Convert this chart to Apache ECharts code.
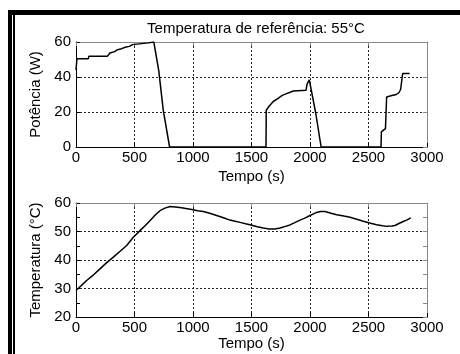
<!DOCTYPE html>
<html>
<head>
<meta charset="utf-8">
<script src="https://cdn.jsdelivr.net/npm/echarts@6/dist/echarts.min.js"></script>
<style>
  html, body { margin: 0; padding: 0; background: #fff; }
  #chart { width: 460px; height: 354px; }
</style>
</head>
<body>
<div id="chart"></div>
<script>
// Potência (W) ao longo do tempo
const powerTime  = [0, 8, 105, 110, 268, 290, 330, 355, 390, 420, 456, 484, 490, 618, 625, 665, 707, 746, 800,
  1624, 1626, 1650, 1686, 1724, 1763, 1800, 1857, 1870, 1966, 1975, 1994, 2000, 2050, 2095,
  2607, 2610, 2645, 2652, 2655, 2700, 2738, 2760, 2775, 2788, 2792, 2852]
const powerValue = [44, 50.5, 50.5, 51.8, 51.8, 53.7, 54.5, 55.6, 56.2, 57, 57.5, 58.5, 59.5, 59.5, 60, 60, 43.8, 20.9, 0,
  0, 21, 23.3, 26, 27.6, 29.5, 30.5, 32, 32.4, 32.4, 36, 38.4, 37.5, 19, 0,
  0, 8.6, 10.5, 10.5, 28.6, 29.4, 30, 31, 33, 34, 42, 42]

// Temperatura (°C) ao longo do tempo
const tempTime  = [0, 45, 91, 150, 205, 260, 319, 375, 433, 490, 547, 590, 632, 675, 718, 760, 803, 850, 903, 950,
  989, 1040, 1088, 1150, 1202, 1260, 1316, 1360, 1402, 1450, 1496, 1550, 1601, 1650, 1700, 1744, 1790,
  1829, 1870, 1915, 1960, 2000, 2030, 2057, 2090, 2128, 2180, 2228, 2290, 2342, 2400, 2456, 2510,
  2570, 2620, 2655, 2700, 2726, 2760, 2797, 2830, 2861]
const tempValue = [29.3, 31, 32.8, 34.8, 36.9, 39, 41, 43, 45.1, 48, 50.3, 52, 53.8, 55.7, 57.3, 58.2, 58.8, 58.6, 58.3, 58,
  57.7, 57.3, 57, 56.3, 55.6, 54.8, 54, 53.6, 53.2, 52.7, 52.3, 51.7, 51.2, 50.9, 50.9, 51.2, 51.8,
  52.3, 53.1, 54, 54.8, 55.6, 56.2, 56.7, 57, 57, 56.4, 55.9, 55.4, 55, 54.3, 53.6, 53,
  52.4, 52, 51.8, 51.9, 52.1, 52.8, 53.5, 54.1, 54.8]

// [min, max, interval]
const timeTicks = [0, 3000, 500]
const powerTicks = [0, 60, 20]
const tempTicks = [20, 60, 10]

const FONT = 'Liberation Sans'
const txt = { color: '#000', fontFamily: FONT, fontSize: 15 }
const plain = v => String(v)

const chart = echarts.init(document.getElementById('chart'))

function bottomX (gridIndex, gap) {
  return {
    type: 'value', gridIndex, min: timeTicks[0], max: timeTicks[1], interval: timeTicks[2],
    name: 'Tempo (s)', nameLocation: 'middle', nameGap: gap, nameTextStyle: txt,
    axisLine: { onZero: false, lineStyle: { color: '#000', width: 1 } },
    axisTick: { inside: true, length: 4, lineStyle: { color: '#000' } },
    axisLabel: Object.assign({ margin: 3, formatter: plain }, txt),
    splitLine: { show: true, lineStyle: { color: '#222', type: [2, 2], width: 1 } }
  }
}
function topX (gridIndex) {
  return {
    type: 'value', gridIndex, position: 'top', min: timeTicks[0], max: timeTicks[1], interval: timeTicks[2],
    axisLine: { onZero: false, lineStyle: { color: '#888', width: 1 } },
    axisTick: { inside: true, length: 4, lineStyle: { color: '#888' } },
    axisLabel: { show: false }, splitLine: { show: false }
  }
}
function leftY (gridIndex, ticks, name, minor) {
  return {
    type: 'value', gridIndex, min: ticks[0], max: ticks[1], interval: ticks[2],
    name, nameLocation: 'middle', nameGap: 30, nameTextStyle: txt,
    axisLine: { show: true, onZero: false, lineStyle: { color: '#000', width: 1 } },
    axisTick: { show: true, inside: true, length: 4, lineStyle: { color: '#000' } },
    minorTick: { show: minor, splitNumber: 2, length: 4, lineStyle: { color: '#000' } },
    axisLabel: Object.assign({ margin: 5, formatter: plain }, txt),
    splitLine: { show: true, lineStyle: { color: '#222', type: [2, 2], width: 1 } }
  }
}
function rightY (gridIndex, ticks, minor) {
  return {
    type: 'value', gridIndex, position: 'right', min: ticks[0], max: ticks[1], interval: ticks[2],
    axisLine: { show: true, onZero: false, lineStyle: { color: '#888', width: 1 } },
    axisTick: { show: true, inside: true, length: 4, lineStyle: { color: '#888' } },
    minorTick: { show: minor, splitNumber: 2, length: 4, lineStyle: { color: '#888' } },
    axisLabel: { show: false }, splitLine: { show: false }
  }
}

chart.setOption({
  backgroundColor: '#fff',
  animation: false,
  title: {
    text: 'Temperatura de referência: 55°C',
    left: 251, top: 16, textAlign: 'center',
    textStyle: { color: '#000', fontFamily: FONT, fontSize: 15, fontWeight: 'normal' }
  },
  graphic: [
    { type: 'rect', shape: { x: 8, y: 10, width: 452, height: 5 }, style: { fill: '#000' } },
    { type: 'rect', shape: { x: 8, y: 10, width: 4, height: 344 }, style: { fill: '#000' } },
    { type: 'rect', shape: { x: 13, y: 14, width: 2, height: 340 }, style: { fill: '#000' } }
  ],
  grid: [
    { left: 76, top: 42, width: 351, height: 105 },
    { left: 76, top: 203, width: 351, height: 114 }
  ],
  xAxis: [bottomX(0, 22), topX(0), bottomX(1, 18), topX(1)],
  yAxis: [
    leftY(0, powerTicks, 'Potência (W)', false),
    rightY(0, powerTicks, false),
    leftY(1, tempTicks, 'Temperatura (°C)', true),
    rightY(1, tempTicks, true)
  ],
  series: [
    {
      type: 'line', xAxisIndex: 0, yAxisIndex: 0, showSymbol: false, symbol: 'none',
      lineStyle: { color: '#000', width: 1.5 },
      data: powerTime.map((t, i) => [t, powerValue[i]])
    },
    {
      type: 'line', xAxisIndex: 2, yAxisIndex: 2, showSymbol: false, symbol: 'none',
      lineStyle: { color: '#000', width: 1.5 },
      data: tempTime.map((t, i) => [t, tempValue[i]])
    }
  ]
})
</script>
</body>
</html>
